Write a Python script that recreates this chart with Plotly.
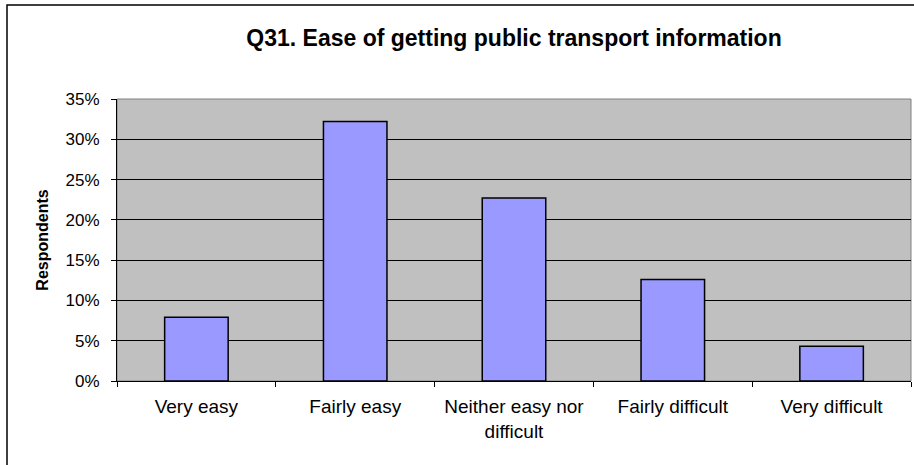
import plotly.graph_objects as go

categories = ["Very easy", "Fairly easy", "Neither easy nor<br>difficult", "Fairly difficult", "Very difficult"]
values = [0.079, 0.322, 0.227, 0.126, 0.043]
tick_vals = [0, 0.05, 0.10, 0.15, 0.20, 0.25, 0.30, 0.35]
tick_text = ["0%", "5%", "10%", "15%", "20%", "25%", "30%", "35%"]
title = "Q31. Ease of getting public transport information"

W, H = 914, 465
L, R, T, B = 117, 3, 99, 84

fig = go.Figure(go.Bar(
    x=categories, y=values,
    marker=dict(color="#9999FF", line=dict(color="#000000", width=1.5)),
    width=0.4,
))

pw = W - L - R
ph = H - T - B
def px_x(p): return (p - L) / pw
def px_y(p): return (H - B - p) / ph

fig.update_layout(
    width=W, height=H,
    margin=dict(l=L, r=R, t=T, b=B, autoexpand=False),
    paper_bgcolor="white",
    plot_bgcolor="#C0C0C0",
    font=dict(family="Liberation Sans, Arial, sans-serif", size=16, color="black"),
    title=dict(text="<b>" + title + "</b>", x=0.5, xref="paper", xanchor="center",
               y=1 - 38 / H, yanchor="middle", yref="container",
               font=dict(size=23, color="black")),
    showlegend=False,
    bargap=0.6,
    xaxis=dict(
        showline=True, linecolor="black", linewidth=1,
        ticks="outside", ticklen=5, tickcolor="black", tickson="boundaries",
        showgrid=False, tickfont=dict(size=19), ticklabelstandoff=8,
        mirror=False, automargin=False,
    ),
    yaxis=dict(
        range=[0, 0.35], tickvals=tick_vals, ticktext=tick_text,
        showline=True, linecolor="black", linewidth=1,
        ticks="outside", ticklen=5, tickcolor="black",
        showgrid=True, gridcolor="black", gridwidth=1,
        tickfont=dict(size=17), zeroline=False, ticklabelstandoff=8,
        automargin=False,
        title=dict(text="<b>Respondents</b>", font=dict(size=16), standoff=12),
    ),
    shapes=[
        dict(type="rect", xref="paper", yref="paper",
             x0=0, x1=1, y0=0, y1=1, line=dict(color="#808080", width=1), layer="below"),
        dict(type="rect", xref="paper", yref="paper",
             x0=px_x(7), x1=px_x(930), y0=px_y(480), y1=px_y(5),
             line=dict(color="black", width=1.5)),
    ],
)

fig.write_html("out.html", config={"displayModeBar": False},
               post_script="document.body.style.margin='0';document.body.style.overflow='hidden';")
